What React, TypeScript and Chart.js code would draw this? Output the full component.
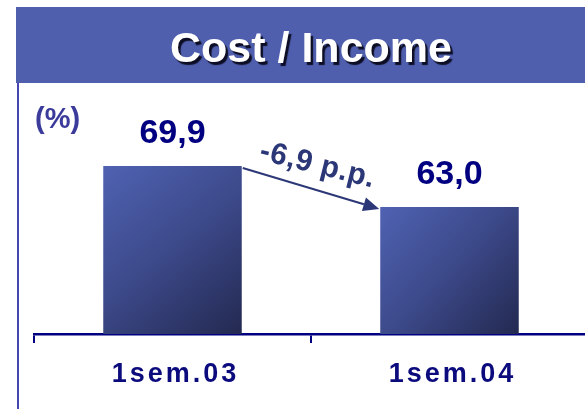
import React, { useEffect, useRef } from "react";
import { Chart, registerables } from "chart.js";

Chart.register(...registerables);

const titleText = "Cost / Income";
const unitLabel = "(%)";
const categories = ["1sem.03", "1sem.04"];
const costIncome = [69.9, 63.0];
const valueLabels = ["69,9", "63,0"];
const changeLabel = "-6,9 p.p.";
const yMin = 41.6;
const yMax = 81;

const FONT = "Arial, 'Liberation Sans', Helvetica, sans-serif";

const decorPlugin = {
  id: "decor",
  beforeDraw(chart: any) {
    const ctx = chart.ctx;
    const w = chart.width;
    const h = chart.height;
    ctx.save();
    ctx.fillStyle = "#ffffff";
    ctx.fillRect(0, 0, w, h);
    // banner
    ctx.fillStyle = "#4f5fae";
    ctx.fillRect(16, 7, w - 16, 76);
    // left rule
    ctx.strokeStyle = "#4646b0";
    ctx.lineWidth = 2;
    ctx.beginPath();
    ctx.moveTo(18, 83);
    ctx.lineTo(18, h);
    ctx.stroke();
    // title
    ctx.font = `bold 43px ${FONT}`;
    ctx.textAlign = "center";
    ctx.textBaseline = "alphabetic";
    ctx.shadowColor = "rgba(10,10,30,0.95)";
    ctx.shadowOffsetX = 2.5;
    ctx.shadowOffsetY = 2.5;
    ctx.shadowBlur = 1;
    ctx.fillStyle = "#ffffff";
    ctx.fillText(titleText, 311, 62);
    ctx.restore();
  },
  afterDatasetsDraw(chart: any) {
    const ctx = chart.ctx;
    const area = chart.chartArea;
    const meta = chart.getDatasetMeta(0);
    const xs = chart.scales.x;
    ctx.save();
    // unit label
    ctx.font = `bold 29px ${FONT}`;
    ctx.fillStyle = "#3b3b9c";
    ctx.textAlign = "left";
    ctx.textBaseline = "alphabetic";
    ctx.fillText(unitLabel, area.left + 1, area.top + 28);

    // value labels
    ctx.font = `bold 34px ${FONT}`;
    ctx.fillStyle = "#000080";
    ctx.textAlign = "center";
    meta.data.forEach((el: any, i: number) => {
      ctx.fillText(valueLabels[i], el.x, el.y - 23);
    });

    // category labels
    ctx.font = `bold 27px ${FONT}`;
    ctx.fillStyle = "#0b0b7d";
    (ctx as any).letterSpacing = "3px";
    categories.forEach((c, i) => {
      const x = xs.getPixelForValue(i);
      ctx.fillText(c, x + 3, area.bottom + 48);
    });
    (ctx as any).letterSpacing = "0px";

    // arrow between bars
    const b1 = meta.data[0];
    const b2 = meta.data[1];
    const x1 = b1.x + b1.width / 2 + 1;
    const y1 = b1.y + 2;
    const x2 = b2.x - b2.width / 2 - 1;
    const y2 = b2.y + 2;
    const ang = Math.atan2(y2 - y1, x2 - x1);
    const headLen = 16;
    const headHalf = 7;
    const bx = x2 - headLen * Math.cos(ang);
    const by = y2 - headLen * Math.sin(ang);
    ctx.strokeStyle = "#2c3777";
    ctx.fillStyle = "#2c3777";
    ctx.lineWidth = 2;
    ctx.beginPath();
    ctx.moveTo(x1, y1);
    ctx.lineTo(bx, by);
    ctx.stroke();
    ctx.beginPath();
    ctx.moveTo(x2, y2);
    ctx.lineTo(bx + headHalf * Math.sin(ang), by - headHalf * Math.cos(ang));
    ctx.lineTo(bx - headHalf * Math.sin(ang), by + headHalf * Math.cos(ang));
    ctx.closePath();
    ctx.fill();

    // change label
    const mx = (x1 + x2) / 2 + 4.5;
    const my = (y1 + y2) / 2 - 15;
    ctx.translate(mx, my);
    ctx.rotate(ang * 0.84);
    ctx.font = `bold 30px ${FONT}`;
    (ctx as any).letterSpacing = "0.5px";
    ctx.textAlign = "center";
    ctx.fillText(changeLabel, 0, 0);
    (ctx as any).letterSpacing = "0px";
    ctx.restore();
  },
};

export default function App() {
  const ref = useRef<HTMLCanvasElement | null>(null);

  useEffect(() => {
    document.body.style.overflow = "hidden";
    const canvas = ref.current;
    if (!canvas) return;
    const chart = new Chart(canvas, {
      type: "bar",
      data: {
        labels: categories,
        datasets: [
          {
            data: costIncome,
            borderWidth: 0,
            barPercentage: 0.5,
            categoryPercentage: 1,
            backgroundColor: (c: any) => {
              const ch = c.chart;
              if (!ch.chartArea || c.type !== "data") return "#3e4b8f";
              const xs = ch.scales.x;
              const ys = ch.scales.y;
              const cx = xs.getPixelForValue(c.dataIndex);
              const half = ((xs.right - xs.left) / categories.length) * 0.25;
              const top = ys.getPixelForValue(c.raw);
              const bottom = ys.getPixelForValue(yMin);
              const g = ch.ctx.createLinearGradient(cx - half, top, cx + half, bottom);
              g.addColorStop(0, "#4f62b2");
              g.addColorStop(0.5, "#3c4989");
              g.addColorStop(1, "#232950");
              return g;
            },
          },
        ],
      },
      options: {
        responsive: false,
        animation: false,
        layout: { padding: { left: 34, right: 2, top: 100, bottom: 0 } },
        plugins: {
          legend: { display: false },
          tooltip: { enabled: false },
          title: { display: false },
        },
        scales: {
          x: {
            grid: {
              offset: true,
              drawOnChartArea: false,
              drawTicks: true,
              color: "#000080",
              lineWidth: 2,
              tickLength: 9,
            },
            border: { display: true, color: "#000080", width: 2.5 },
            ticks: { display: false },
            afterFit: (s: any) => {
              s.height = 75;
            },
          },
          y: { display: false, min: yMin, max: yMax },
        },
      },
      plugins: [decorPlugin],
    } as any);
    return () => chart.destroy();
  }, []);

  return (
    <div style={{ position: "fixed", left: 0, top: 0, width: 590, height: 409 }}>
      <canvas ref={ref} width={590} height={409} style={{ display: "block" }} />
    </div>
  );
}
